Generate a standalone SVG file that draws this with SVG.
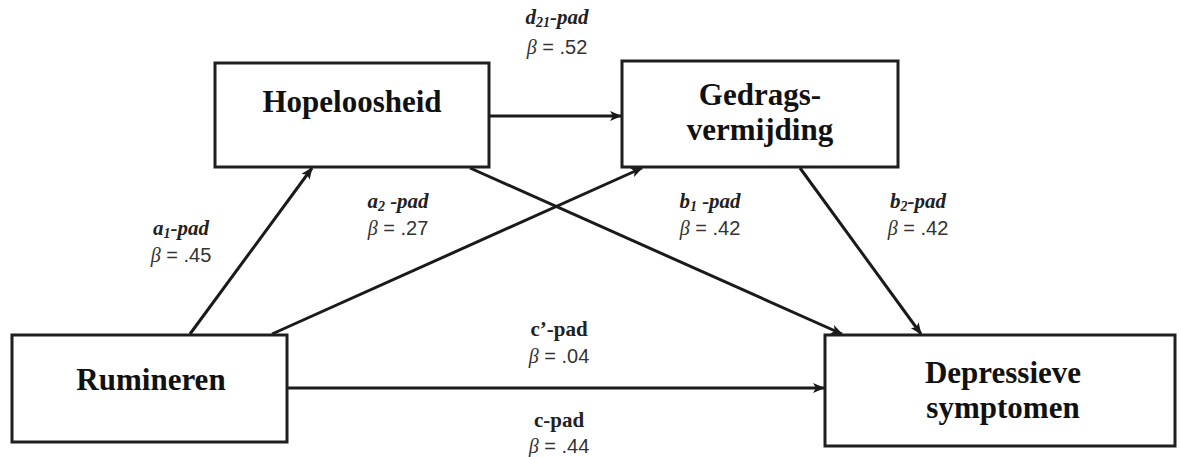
<svg xmlns="http://www.w3.org/2000/svg" width="1181" height="457" viewBox="0 0 1181 457">
<defs>
<marker id="ah" viewBox="0 0 12 10" refX="11" refY="5" markerWidth="12" markerHeight="10" markerUnits="userSpaceOnUse" orient="auto">
<path d="M0,0 L12,5 L0,10 L3,5 Z" fill="#1a1a1a"/>
</marker>
<style>
.box{fill:#fff;stroke:#1f1f1f;stroke-width:3}
.node{font-family:"Liberation Serif","Times New Roman",serif;font-weight:bold;font-size:31px;fill:#111;text-anchor:middle}
.edge{stroke:#1a1a1a;stroke-width:3;fill:none;marker-end:url(#ah)}
.lbl{font-family:"Liberation Serif","Times New Roman",serif;font-weight:bold;font-style:italic;font-size:21px;fill:#222;text-anchor:middle}
.lblb{font-family:"Liberation Serif","Times New Roman",serif;font-weight:bold;font-size:21px;fill:#222;text-anchor:middle}
.beta{font-family:"Liberation Sans",Arial,sans-serif;font-size:20px;fill:#333;text-anchor:middle}
.bs{font-family:"Liberation Serif",serif;font-style:italic}
.sub{font-size:14px}
</style>
</defs>
<rect width="1181" height="457" fill="#fff"/>
<g id="connectors">
<line class="edge" x1="489" y1="116" x2="621" y2="116"/>
<line class="edge" x1="190" y1="334" x2="312" y2="168"/>
<line class="edge" x1="272" y1="334" x2="642" y2="168"/>
<line class="edge" x1="470" y1="168" x2="842" y2="334"/>
<line class="edge" x1="800" y1="168" x2="921" y2="334"/>
<line class="edge" x1="287" y1="388" x2="824" y2="388"/>
</g>
<g id="hopeloosheid">
<rect class="box" x="215" y="63" width="274" height="104"/>
<text class="node" x="352" y="112">Hopeloosheid</text>
</g>
<g id="gedragsvermijding">
<rect class="box" x="622" y="61" width="276" height="106"/>
<text class="node" x="760" y="105">Gedrags-</text>
<text class="node" x="760" y="140">vermijding</text>
</g>
<g id="rumineren">
<rect class="box" x="12" y="335" width="275" height="107"/>
<text class="node" x="151" y="390">Rumineren</text>
</g>
<g id="depressieve">
<rect class="box" x="825" y="335" width="350" height="111"/>
<text class="node" x="1003" y="383">Depressieve</text>
<text class="node" x="1003" y="418">symptomen</text>
</g>
<g id="labels">
<text class="lbl" x="557" y="24">d<tspan class="sub" dy="3">21</tspan><tspan dy="-3">-pad</tspan></text>
<text class="beta" x="557" y="54"><tspan class="bs">β</tspan> = .52</text>
<text class="lbl" x="181" y="235">a<tspan class="sub" dy="3">1</tspan><tspan dy="-3">-pad</tspan></text>
<text class="beta" x="181" y="262"><tspan class="bs">β</tspan> = .45</text>
<text class="lbl" x="398" y="208">a<tspan class="sub" dy="3">2</tspan><tspan dy="-3"> -pad</tspan></text>
<text class="beta" x="398" y="235"><tspan class="bs">β</tspan> = .27</text>
<text class="lbl" x="710" y="208">b<tspan class="sub" dy="3">1</tspan><tspan dy="-3"> -pad</tspan></text>
<text class="beta" x="710" y="235"><tspan class="bs">β</tspan> = .42</text>
<text class="lbl" x="918" y="208">b<tspan class="sub" dy="3">2</tspan><tspan dy="-3">-pad</tspan></text>
<text class="beta" x="918" y="235"><tspan class="bs">β</tspan> = .42</text>
<text class="lblb" x="559" y="336">c’-pad</text>
<text class="beta" x="559" y="363"><tspan class="bs">β</tspan> = .04</text>
<text class="lblb" x="559" y="427">c-pad</text>
<text class="beta" x="559" y="453"><tspan class="bs">β</tspan> = .44</text>
</g>
</svg>
